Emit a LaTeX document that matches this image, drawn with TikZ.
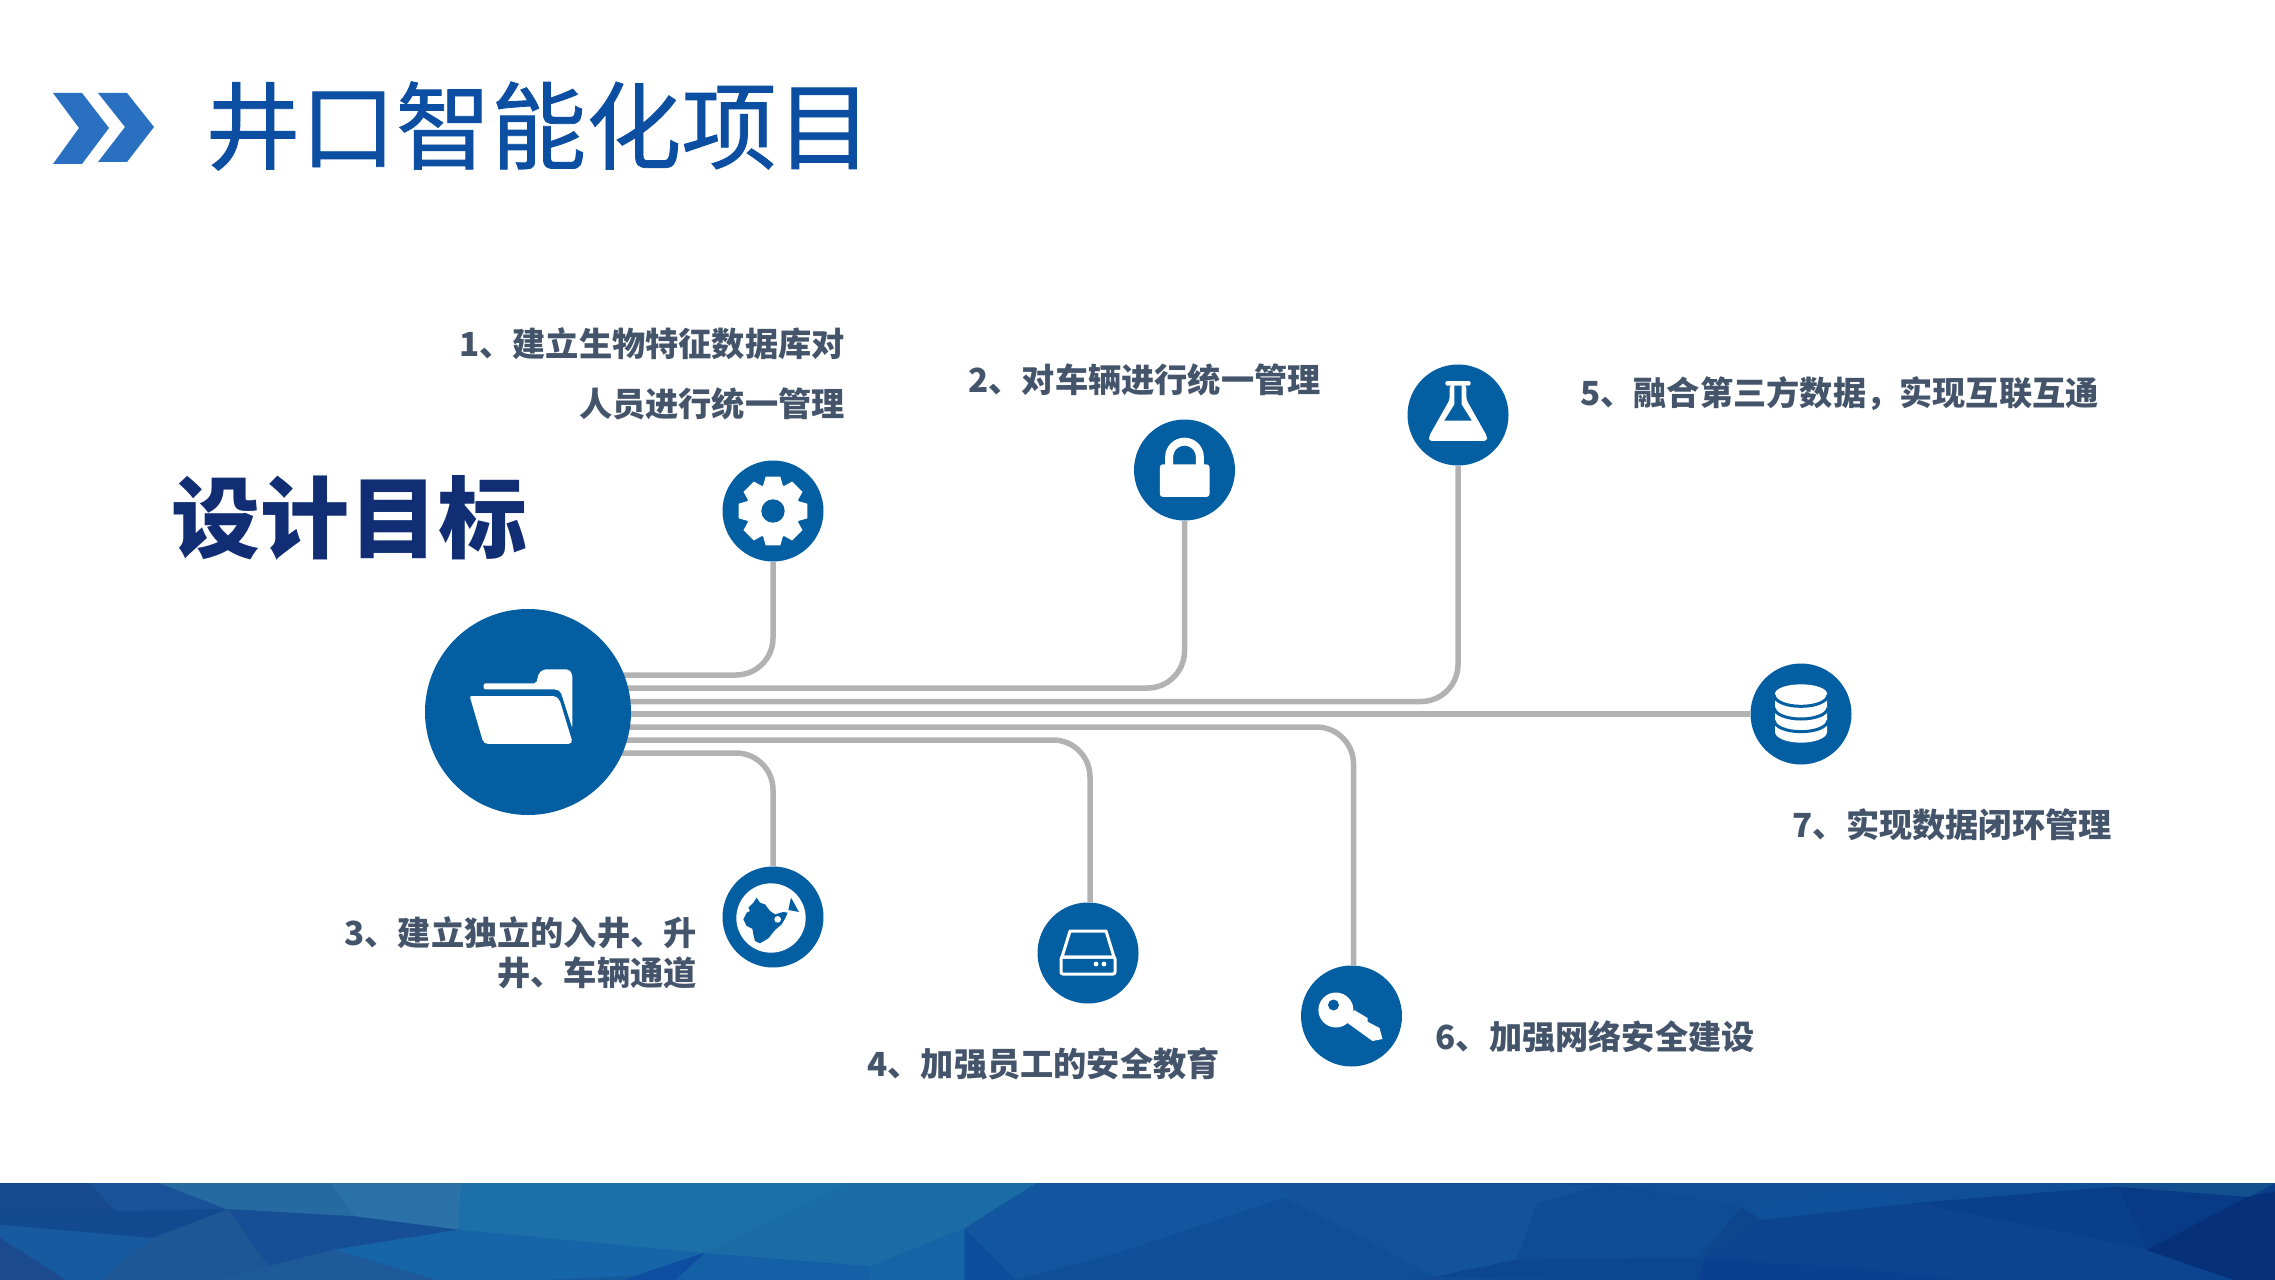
\documentclass[tikz,border=0pt]{standalone}
\usepackage{fontspec}
\setmainfont{Noto Sans CJK SC}
\newfontfamily\titlefont[FakeBold=0.8]{Noto Sans CJK SC}
\usetikzlibrary{backgrounds}
\newlength{\du}
\setlength{\du}{0.02cm}
\definecolor{circlecolor}{HTML}{035EA2}
\definecolor{linecolor}{HTML}{B2B2B2}
\definecolor{labelcolor}{HTML}{44546A}
\definecolor{titlecolor}{HTML}{0B4EA2}
\definecolor{headcolor}{HTML}{112D73}
\definecolor{chevroncolor}{HTML}{2970C0}
\definecolor{bandleft}{HTML}{1A64A4}
\definecolor{bandright}{HTML}{0A3D87}
\tikzset{
  hubcircle/.style={circle,fill=circlecolor,inner sep=0pt,minimum size=206\du},
  iconcircle/.style={circle,fill=circlecolor,inner sep=0pt,minimum size=101\du},
  linkline/.style={draw=linecolor,line width=5.5\du,rounded corners=37\du},
  labeltext/.style={text=labelcolor,font=\fontsize{18.9}{22.8}\selectfont\bfseries,inner sep=0pt,align=right},
  iconscope/.style={x=.3333\du,y=.3333\du},
}
\newcommand{\facet}[2]{\definecolor{facetcolor}{HTML}{#1}\filldraw[draw=facetcolor,fill=facetcolor,line width=.3pt] #2 -- cycle;}

\begin{document}
\begin{tikzpicture}
\pgftransformyscale{-1.000000}
\useasboundingbox (0\du,0\du) rectangle (2275\du,1280\du);
% bottom band
\begin{scope}
\clip (0\du,1183\du) rectangle (2275\du,1280\du);
\fill[left color=bandleft,right color=bandright] (0\du,1183\du) rectangle (2275\du,1280\du);
\begin{scope}[shift={(0\du,1160\du)},x=1.451\du,y=.3333\du]
\facet{17498F}{(0,69)--(62,69)--(80,155)--(0,150)}
\facet{1A5299}{(62,69)--(110,69)--(157,148)--(80,155)}
\facet{256AA0}{(110,69)--(228,69)--(245,170)--(157,148)}
\facet{2A72A8}{(228,69)--(318,69)--(316,210)--(245,170)}
\facet{1C6FA8}{(318,69)--(585,69)--(485,280)--(316,210)}
\facet{1A6BA6}{(585,69)--(715,69)--(665,205)--(600,320)--(485,280)}
\facet{13498F}{(80,155)--(157,148)--(105,235)--(0,195)--(0,150)}
\facet{174F96}{(157,148)--(245,170)--(316,210)--(230,270)--(185,320)}
\facet{1565A8}{(316,210)--(485,280)--(440,345)--(370,360)--(300,360)--(230,270)}
\facet{1360A6}{(485,280)--(600,320)--(600,360)--(430,360)}
\facet{0E4EA0}{(485,280)--(430,360)--(465,360)}
\facet{1565A6}{(600,320)--(665,205)--(665,360)--(600,360)}
\facet{0D4E9C}{(665,205)--(700,360)--(665,360)}
\facet{175AA0}{(0,195)--(105,235)--(70,360)--(45,360)--(0,235)}
\facet{1E5796}{(105,235)--(157,148)--(185,320)--(150,360)--(70,360)}
\facet{1E5A9A}{(185,320)--(230,270)--(300,360)--(150,360)}
\facet{1C4A8E}{(0,235)--(45,360)--(0,360)}
\facet{12569F}{(715,69)--(880,69)--(885,115)--(770,280)--(700,360)--(665,205)}
\facet{12539C}{(880,69)--(1105,75)--(1060,130)--(1045,300)--(990,350)--(885,115)}
\facet{0F4F98}{(770,280)--(885,115)--(990,350)--(960,360)--(700,360)}
\facet{0E4C96}{(1105,75)--(1200,140)--(1170,295)--(1045,300)--(1060,130)}
\facet{0F4F98}{(1105,69)--(1568,69)--(1460,80)--(1320,130)--(1280,80)--(1200,140)}
\facet{0E5099}{(1280,80)--(1320,130)--(1215,180)--(1200,140)}
\facet{0C4490}{(1215,180)--(1320,130)--(1290,330)--(1175,295)}
\facet{0A3F8A}{(1320,130)--(1460,80)--(1480,270)--(1420,215)}
\facet{0C4490}{(1320,130)--(1420,215)--(1480,270)--(1540,360)--(1350,360)--(1290,330)}
\facet{083A85}{(1460,80)--(1550,110)--(1480,270)}
\facet{06307A}{(1550,110)--(1568,95)--(1568,360)--(1540,360)--(1480,270)}
\facet{0B4090}{(1175,295)--(1290,330)--(1350,360)--(1170,360)}
\facet{0C4590}{(1045,300)--(1175,295)--(1170,360)--(990,350)}
\facet{12508F}{(1460,69)--(1568,69)--(1550,110)--(1460,80)}
\end{scope}
\end{scope}
% title
\fill[chevroncolor] (53\du,93\du)--(82\du,93\du)--(109\du,128\du)--(82\du,164\du)--(53\du,164\du)--(79\du,128\du)--cycle;
\fill[chevroncolor] (98\du,93\du)--(127\du,93\du)--(154\du,127\du)--(127\du,162\du)--(98\du,162\du)--(125\du,127\du)--cycle;
\node[anchor=west,inner sep=0pt,text=titlecolor,font=\fontsize{54.2}{60}\titlefont] (title) at (205\du,126\du) {井口智能化项目};
\node[anchor=west,inner sep=0pt,text=headcolor,font=\fontsize{50.6}{58}\selectfont\bfseries] (head) at (171\du,518\du) {设计目标};
% circles
\node[hubcircle] (hub) at (528\du,712\du) {};
\node[iconcircle] (gear) at (773\du,511\du) {};
\node[iconcircle] (lock) at (1184.5\du,470\du) {};
\node[iconcircle] (flask) at (1458\du,415\du) {};
\node[iconcircle] (data) at (1801\du,714\du) {};
\node[iconcircle] (globe) at (773\du,917\du) {};
\node[iconcircle] (drive) at (1088\du,953\du) {};
\node[iconcircle] (key) at (1351.5\du,1016\du) {};
% connectors
\begin{scope}[on background layer]
\draw[linkline] ([yshift=-37\du]hub.center) -| (gear);
\draw[linkline] ([yshift=-24\du]hub.center) -| (lock);
\draw[linkline] ([yshift=-10.5\du]hub.center) -| (flask);
\draw[linkline] ([yshift=2\du]hub.center) -- (data);
\draw[linkline] ([yshift=15\du]hub.center) -| ([xshift=2\du]key.north);
\draw[linkline] ([yshift=28\du]hub.center) -| ([xshift=2\du]drive.north);
\draw[linkline] ([yshift=41\du]hub.center) -| (globe);
\end{scope}
% folder
\begin{scope}[shift={(hub.center)},iconscope]
\fill[white,rounded corners=2\du] (-133,-68)--(-133,-86)--(25,-86)--(32,-116)--(47,-128)--(122,-128)--(133,-114)--(133,49)--(98,-61)--(85,-68)--cycle;
\fill[white,rounded corners=2\du] (-175,-48)--(82,-48)--(95,-36)--(133,89)--(127,96)--(-125,96)--(-135,89)--cycle;
\end{scope}
% gear
\begin{scope}[shift={(gear.center)},iconscope]
\foreach \a in {0,45,...,315} {
\fill[white,rotate=\a] (-30,-75)--(-22,-103)--(22,-103)--(30,-75)--cycle;
}
\fill[white] (0,0) circle (82);
\fill[circlecolor] (0,0) circle (35);
\end{scope}
% lock
\begin{scope}[shift={(lock.center)},iconscope]
\draw[white,line width=8\du] (-46,-10)--(-46,-39) arc (180:360:46)--(46,-10);
\fill[white,rounded corners=3\du] (-74,-17) rectangle (75,81);
\end{scope}
% flask
\begin{scope}[shift={(flask.center)},iconscope]
\fill[white,rounded corners=2\du] (-38,-102) rectangle (38,-88);
\fill[white,rounded corners=3\du] (-25,-90)--(25,-90)--(25,-46)--(87,64)--(87,78)--(-87,78)--(-87,64)--(-25,-46)--cycle;
\fill[circlecolor] (-11,-88)--(11,-88)--(11,-31)--(41,17)--(-41,17)--(-11,-31)--cycle;
\end{scope}
% database
\begin{scope}[shift={(data.center)},iconscope]
\fill[white] (-78,-61)--(-78,54) arc (180:0:78 and 32)--(78,-61) arc (0:-180:78 and 28)--cycle;
\foreach \y in {-56,-18,20} {
\draw[circlecolor,line width=3\du] (-80,\y) arc (180:0:80 and 33);
}
\end{scope}
% globe
\begin{scope}[shift={(globe.center)},iconscope]
\fill[white] (-6,3) circle (104);
\fill[circlecolor,shift={(-6,3)}] (-43,-61)--(-33,-46)--(-18,-41)--(-3,-21)--(12,-11)--(37,-18)--(50,-16)--(42,2)--(32,19)--(12,36)--(-8,61)--(-33,76)--(-48,69)--(-53,49)--(-56,32)--(-73,24)--(-83,4)--(-73,-16)--(-63,-21)--(-68,-31)--(-53,-46)--cycle;
\fill[circlecolor,shift={(-6,3)}] (60,-61)--(84,-18)--(52,-24)--cycle;
\fill[white,shift={(-6,3)}] (20,4) circle (10);
\end{scope}
% drive
\begin{scope}[shift={(drive.center)},x=\du,y=\du]
\draw[white,line width=3\du,line join=round] (-18,-22)--(18,-22)--(26,4)--(-26,4)--cycle;
\draw[white,line width=3\du,rounded corners=2\du] (-27,4) rectangle (27,21);
\fill[white] (8,11) circle (2.4);
\fill[white] (16,11) circle (2.4);
\end{scope}
% key
\begin{scope}[shift={(key.center)},x=\du,y=\du]
\fill[white] (-15.6,-6) circle (17.5);
\fill[white] (2.7,-6)--(16,2)--(16,5.7)--(28,12)--(31,23)--(21,25)--(-4,7)--cycle;
\fill[circlecolor] (-18,-11) circle (5.5);
\end{scope}
% labels
\node[labeltext,anchor=east] (label1) at (845\du,374\du) {1、建立生物特征数据库对\\[11.6pt]人员进行统一管理};
\node[labeltext,anchor=east] (label2) at (1321\du,380\du) {2、对车辆进行统一管理};
\node[labeltext,anchor=east] (label5) at (2099\du,394\du) {5、融合第三方数据，实现互联互通};
\node[labeltext,anchor=east] (label7) at (2112\du,825\du) {7、实现数据闭环管理};
\node[labeltext,anchor=east] (label3) at (697\du,953\du) {3、建立独立的入井、升\\井、车辆通道};
\node[labeltext,anchor=east] (label4) at (1220\du,1064\du) {4、加强员工的安全教育};
\node[labeltext,anchor=east] (label6) at (1755\du,1037\du) {6、加强网络安全建设};
\end{tikzpicture}
\end{document}
